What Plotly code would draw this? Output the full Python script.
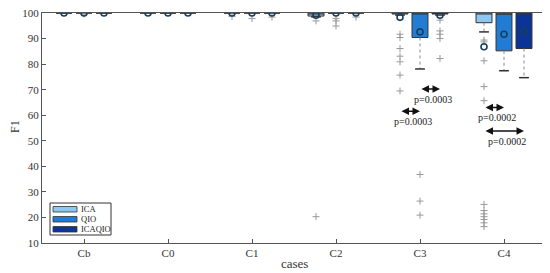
import plotly.graph_objects as go

# categories and methods
cases = ["Cb", "C0", "C1", "C2", "C3", "C4"]
methods = ["ICA", "QIO", "ICAQIO"]

# box statistics (F1, %) per method, one value per case
ica_q1 = [100, 100, 100, 98.8, 99.6, 96.2]
ica_median = [100, 100, 100, 100, 100, 100]
ica_q3 = [100, 100, 100, 100, 100, 100]
ica_low = [100, 100, 100, 98.5, 99.2, 92.6]
ica_mean = [100, 100, 100, 99.1, 98.3, 86.8]
ica_out = [[], [], [98.7], [96.9, 20.3],
           [91.7, 90.4, 86.1, 83.1, 80.9, 75.7, 69.5],
           [89.4, 88.7, 81.3, 71.2, 65.7, 25.1, 22.7, 21.4, 20.3, 19.2, 17.9, 16.4]]

qio_q1 = [100, 100, 100, 100, 90.4, 85.2]
qio_median = [100, 100, 100, 100, 100, 99.5]
qio_q3 = [100, 100, 100, 100, 100, 100]
qio_low = [100, 100, 100, 100, 78.1, 77.4]
qio_mean = [100, 100, 100, 100, 92.6, 91.7]
qio_out = [[99.6], [], [97.8], [97.8, 96.9, 94.9], [36.8, 26.4, 20.9], []]

aq_q1 = [100, 100, 100, 100, 99.6, 86.1]
aq_median = [100, 100, 100, 100, 100, 100]
aq_q3 = [100, 100, 100, 100, 100, 100]
aq_low = [100, 100, 100, 100, 99.2, 74.7]
aq_mean = [100, 100, 100, 100, 99.1, 92.9]
aq_out = [[], [], [98.4], [98.4], [97.2, 93.0, 91.7, 90.0, 82.2], []]

# significance comparisons
comp_case = ["C3", "C3", "C4", "C4"]
comp_a = ["QIO", "ICA", "ICA", "ICA"]
comp_b = ["ICAQIO", "QIO", "QIO", "ICAQIO"]
comp_y = [70.3, 61.6, 63.0, 53.8]
comp_p = ["p=0.0003", "p=0.0003", "p=0.0002", "p=0.0002"]

stats = {
    "ICA": (ica_q1, ica_median, ica_q3, ica_low, ica_mean, ica_out),
    "QIO": (qio_q1, qio_median, qio_q3, qio_low, qio_mean, qio_out),
    "ICAQIO": (aq_q1, aq_median, aq_q3, aq_low, aq_mean, aq_out),
}
colors = {"ICA": "rgb(140,200,242)", "QIO": "rgb(34,124,212)", "ICAQIO": "rgb(12,52,150)"}
offsets = {"ICA": -0.238, "QIO": 0.0, "ICAQIO": 0.238}
FONT = "Liberation Serif"
TXT = "#333"

# the page body adds an 8px margin, so the figure is drawn 8px smaller
OFF = 8
W, H = 550 - OFF, 273 - OFF
ML, MR, MT, MB = 42 - OFF, 4, 13 - OFF, 30
PW, PH = W - ML - MR, H - MT - MB


def pos(case, method):
    return cases.index(case) + offsets[method]


def px(x):  # screen pixel -> paper x
    return (x - OFF - ML) / PW


def py(y):  # screen pixel -> paper y
    return (H - MB - (y - OFF)) / PH


fig = go.Figure()

for m in methods:
    q1, med, q3, low, mean, out = stats[m]
    xs = [pos(c, m) for c in cases]

    # whiskers (dotted) and caps
    wx, wy, cx, cy = [], [], [], []
    for x, a, b in zip(xs, q1, low):
        if b < a:
            wx += [x, x, None]
            wy += [a, b, None]
            cx.append(x)
            cy.append(b)
    fig.add_trace(go.Scatter(x=wx, y=wy, mode="lines", showlegend=False,
                             line=dict(color="#888", width=1, dash="dot")))
    fig.add_trace(go.Scatter(x=cx, y=cy, mode="markers", showlegend=False,
                             marker=dict(symbol="line-ew", size=7, color="#333",
                                         line=dict(color="#333", width=1.5))))

    fig.add_trace(go.Box(
        x=xs, q1=q1, median=med, q3=q3, lowerfence=q1, upperfence=q3,
        width=0.19, name=m, fillcolor=colors[m], showlegend=False,
        line=dict(color="#333", width=1), whiskerwidth=0,
    ))

    # outliers
    ox, oy = [], []
    for x, vals in zip(xs, out):
        ox += [x] * len(vals)
        oy += vals
    fig.add_trace(go.Scatter(x=ox, y=oy, mode="markers", showlegend=False,
                             marker=dict(symbol="cross-thin", size=5, color="#999",
                                         line=dict(color="#999", width=1))))

    # means
    fig.add_trace(go.Scatter(x=xs, y=mean, mode="markers", showlegend=False,
                             marker=dict(symbol="circle-open", size=6, color="#163f5e",
                                         line=dict(color="#163f5e", width=1.6))))

# comparison arrows with p-values
for c, a, b, y, p in zip(comp_case, comp_a, comp_b, comp_y, comp_p):
    x0, x1 = pos(c, a), pos(c, b)
    fig.add_annotation(x=x1, y=y, ax=x0, ay=y, xref="x", yref="y", axref="x", ayref="y",
                       text="", showarrow=True, arrowhead=2, arrowside="end+start",
                       arrowsize=1, arrowwidth=1.5, arrowcolor="#111",
                       standoff=0, startstandoff=0)
    fig.add_annotation(x=(x0 + x1) / 2 + 0.04, y=y - 4, xref="x", yref="y",
                       text=p, showarrow=False, font=dict(family=FONT, size=10, color="#222"))

# hand-made legend (MATLAB style, compact)
fig.add_shape(type="rect", xref="paper", yref="paper",
              x0=px(50), x1=px(111), y0=py(235), y1=py(203),
              line=dict(color="#333", width=1), fillcolor="white", layer="above")
for i, m in enumerate(methods):
    top = 206.5 + i * 10
    fig.add_shape(type="rect", xref="paper", yref="paper",
                  x0=px(53), x1=px(77), y0=py(top + 5.5), y1=py(top),
                  line=dict(color="#333", width=0.8), fillcolor=colors[m], layer="above")
    fig.add_annotation(x=px(79), y=py(top + 2.8), xref="paper", yref="paper",
                       text=m, showarrow=False, xanchor="left", yanchor="middle",
                       font=dict(family=FONT, size=8.5, color="#222"))

# axis titles
fig.add_annotation(x=px(294), y=py(263), xref="paper", yref="paper", text="cases",
                   showarrow=False, yanchor="middle", font=dict(family=FONT, size=13, color=TXT))
fig.add_annotation(x=px(15), y=py(127), xref="paper", yref="paper", text="F1", textangle=-90,
                   showarrow=False, xanchor="center", yanchor="middle",
                   font=dict(family=FONT, size=12, color=TXT))

fig.update_layout(
    width=W, height=H,
    margin=dict(l=ML, r=MR, t=MT, b=MB, autoexpand=False),
    paper_bgcolor="white", plot_bgcolor="white",
    font=dict(family=FONT, size=11, color=TXT),
    showlegend=False,
)
fig.update_xaxes(range=[-0.5, 5.5], tickvals=list(range(len(cases))), ticktext=cases,
                 ticks="inside", ticklen=4, tickcolor="#555", showgrid=False,
                 tickfont=dict(family=FONT, size=11, color=TXT), ticklabeloverflow="allow",
                 showline=True, linecolor="#555", mirror=True, zeroline=False)
fig.update_yaxes(range=[10, 100], dtick=10, ticks="inside", ticklen=4, tickcolor="#555",
                 tickfont=dict(family=FONT, size=11, color=TXT), ticklabeloverflow="allow",
                 showgrid=False, showline=True, linecolor="#555", mirror="ticks",
                 zeroline=False)

fig.write_html("out.html")
